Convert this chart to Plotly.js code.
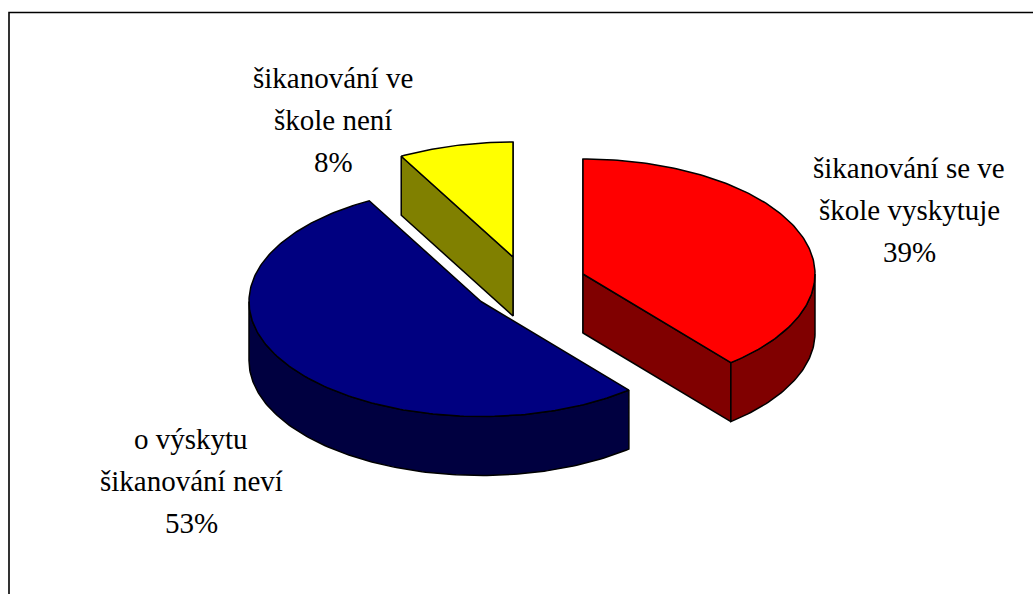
<!DOCTYPE html>
<html>
<head>
<meta charset="utf-8">
<script src="https://cdn.plot.ly/plotly-3.0.1.min.js"></script>
<style>html,body{margin:0;padding:0;background:#fff;overflow:hidden}#chart{width:1033px;height:594px}</style>
</head>
<body>
<div id="chart"></div>
<script>
// Data
const categories = [["šikanování se ve", "škole vyskytuje"], ["o výskytu", "šikanování neví"], ["šikanování ve", "škole není"]];
const values = [39, 53, 8];
const topColors = ["#FF0000", "#000080", "#FFFF00"];
const sideColors = ["#800000", "#000040", "#808000"];

// Projection of the tilted, exploded pie
const RX = 232, RY = 115, DEPTH = 59;
const centers = [[583, 274], [481, 301.5], [513, 257]];
const labelPos = [[909, 168], [191, 439], [333, 78]];
const LINE_STEP = 42;

const total = values.reduce((a, b) => a + b, 0);
const traces = [];
const annotations = [];

function rim(cx, cy, a0, a1, dy) {
  const xs = [], ys = [], n = Math.max(2, Math.ceil((a1 - a0) * 60));
  for (let i = 0; i <= n; i++) {
    const a = a0 + (a1 - a0) * i / n;
    xs.push(cx + RX * Math.sin(a));
    ys.push(cy - RY * Math.cos(a) + dy);
  }
  return [xs, ys];
}
function poly(xs, ys, color) {
  traces.push({
    type: "scatter", mode: "lines", x: xs, y: ys, fill: "toself", fillcolor: color,
    line: {color: "#000", width: 1.5, shape: "linear"}, hoverinfo: "skip", showlegend: false
  });
}
function wall(cx, cy, a0, a1, color) {
  const [x0, y0] = rim(cx, cy, a0, a1, 0);
  const [x1, y1] = rim(cx, cy, a0, a1, DEPTH);
  poly(x0.concat(x1.slice().reverse(), [x0[0]]), y0.concat(y1.slice().reverse(), [y0[0]]), color);
}
function cutWall(cx, cy, a, color) {
  const ex = cx + RX * Math.sin(a), ey = cy - RY * Math.cos(a);
  poly([cx, ex, ex, cx, cx], [cy, ey, ey + DEPTH, cy + DEPTH, cy], color);
}

let start = 0;
const order = [2, 0, 1];
const spans = values.map(v => { const s = [start, start + v / total * 2 * Math.PI]; start = s[1]; return s; });
order.forEach(i => {
  const [a0, a1] = spans[i];
  const [cx, cy] = centers[i];
  if (i === 0) { cutWall(cx, cy, a0, sideColors[i]); cutWall(cx, cy, a1, sideColors[i]); }
  if (i === 2) { cutWall(cx, cy, a1, sideColors[i]); cutWall(cx, cy, a0, sideColors[i]); }
  const f0 = Math.max(a0, Math.PI / 2), f1 = Math.min(a1, 3 * Math.PI / 2);
  if (f1 > f0) wall(cx, cy, f0, f1, sideColors[i]);
  const [tx, ty] = rim(cx, cy, a0, a1, 0);
  poly([cx].concat(tx, [cx]), [cy].concat(ty, [cy]), topColors[i]);
  categories[i].concat([values[i] + "%"]).forEach((line, k) => {
    annotations.push({
      x: labelPos[i][0], y: labelPos[i][1] + k * LINE_STEP, xref: "x", yref: "y", showarrow: false,
      text: line, xanchor: "center", yanchor: "middle",
      font: {family: "Liberation Serif, Times New Roman, serif", size: 29, color: "#000"}
    });
  });
});

const layout = {
  width: 1033, height: 594, margin: {l: 0, r: 0, t: 0, b: 0},
  paper_bgcolor: "#fff", plot_bgcolor: "#fff", showlegend: false,
  xaxis: {range: [0, 1033], visible: false, fixedrange: true},
  yaxis: {range: [594, 0], visible: false, fixedrange: true},
  annotations: annotations,
  shapes: [{type: "rect", xref: "x", yref: "y", x0: 9, x1: 1036, y0: 12.5, y1: 598, line: {color: "#000", width: 1.6}, fillcolor: "rgba(0,0,0,0)", layer: "below"}]
};
Plotly.newPlot("chart", traces, layout, {displayModeBar: false, staticPlot: true});
</script>
</body>
</html>
